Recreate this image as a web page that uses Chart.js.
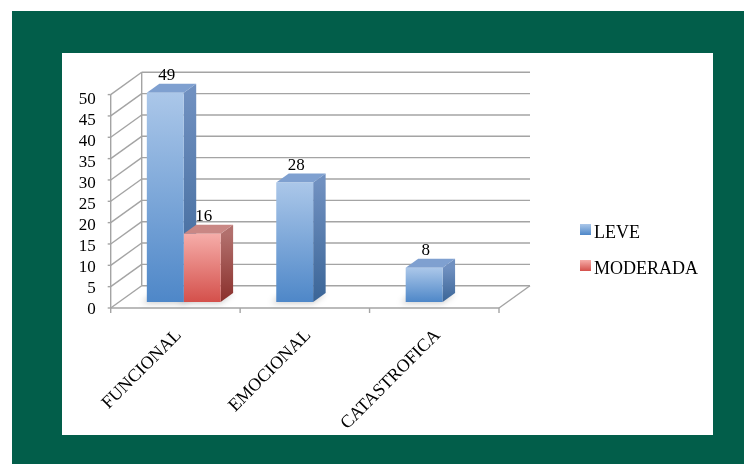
<!DOCTYPE html>
<html><head><meta charset="utf-8">
<script src="https://cdn.jsdelivr.net/npm/chart.js@4.4.1/dist/chart.umd.min.js"></script>
<style>html,body{margin:0;padding:0;background:#fff;overflow:hidden}canvas{display:block}</style>
</head><body>
<canvas id="c" width="744" height="464"></canvas>
<script>
// ---- data ----
const categories = ['FUNCIONAL', 'EMOCIONAL', 'CATASTROFICA'];
const seriesNames = ['LEVE', 'MODERADA'];
const leveValues = [49, 28, 8];
const moderadaValues = [16, 0, 0];
const yTickValues = [0, 5, 10, 15, 20, 25, 30, 35, 40, 45, 50];

// ---- styling ----
const FONT = '"Liberation Serif", "Times New Roman", serif';
const FRONT = { dx: -8.3, dy: 6 };      // front plane relative to bar plane
const BACK = { dx: 22.7, dy: -16.3 };    // back wall relative to bar plane
const DEPTH = { dx: 12.5, dy: 9 };       // bar depth
const GRID = '#A4A4A4';
const palette = [
  { frontTop: '#ABC7E9', frontBottom: '#4E87C8', sideTop: '#7090C0', sideBottom: '#3A6597', top: '#7FA0D0' },
  { frontTop: '#F6ADA9', frontBottom: '#D4504B', sideTop: '#B2706D', sideBottom: '#8A2F2B', top: '#C98784' }
];

function frontGradient(ctx, top, bottom, p) {
  const g = ctx.createLinearGradient(0, top, 0, bottom);
  g.addColorStop(0, p.frontTop);
  g.addColorStop(1, p.frontBottom);
  return g;
}

function barFill(c) {
  const p = palette[c.datasetIndex];
  const ys = c.chart.scales && c.chart.scales.y;
  if (!ys || c.raw === undefined) return p.frontBottom;
  const top = ys.getPixelForValue(c.raw), bottom = ys.getPixelForValue(0);
  if (!isFinite(top) || !isFinite(bottom) || top >= bottom) return p.frontBottom;
  return frontGradient(c.chart.ctx, top, bottom, p);
}

const frame3d = {
  id: 'frame3d',
  beforeDraw(chart) {
    const ctx = chart.ctx;
    ctx.save();
    ctx.fillStyle = '#ffffff';
    ctx.fillRect(0, 0, chart.width, chart.height);
    ctx.fillStyle = '#025E4A';
    ctx.fillRect(12, 11, chart.width - 12, chart.height - 11);
    ctx.fillStyle = '#ffffff';
    ctx.fillRect(62, 53, 651, 382);
    ctx.restore();
  },
  beforeDatasetsDraw(chart) {
    const ctx = chart.ctx, ys = chart.scales.y, xs = chart.scales.x;
    const L = xs.getPixelForValue(-0.5), R = xs.getPixelForValue(categories.length - 0.5);
    const y0 = ys.getPixelForValue(0), yMax = ys.getPixelForValue(yTickValues[yTickValues.length - 1]);
    ctx.save();
    ctx.strokeStyle = GRID;
    ctx.lineWidth = 1.4;
    ctx.lineCap = 'butt';
    const line = (x1, y1, x2, y2) => { ctx.beginPath(); ctx.moveTo(x1, y1); ctx.lineTo(x2, y2); ctx.stroke(); };
    yTickValues.forEach(v => {
      const y = ys.getPixelForValue(v);
      line(L + BACK.dx, y + BACK.dy, R + BACK.dx, y + BACK.dy);
      line(L + FRONT.dx, y + FRONT.dy, L + BACK.dx, y + BACK.dy);
      line(L + FRONT.dx - 3, y + FRONT.dy, L + FRONT.dx, y + FRONT.dy);
    });
    line(L + FRONT.dx, y0 + FRONT.dy, L + FRONT.dx, yMax + FRONT.dy);
    line(L + BACK.dx, y0 + BACK.dy, L + BACK.dx, yMax + BACK.dy);
    line(L + FRONT.dx, y0 + FRONT.dy, R + FRONT.dx, y0 + FRONT.dy);
    line(R + FRONT.dx, y0 + FRONT.dy, R + BACK.dx, y0 + BACK.dy);
    for (let i = 0; i <= categories.length; i++) {
      const x = xs.getPixelForValue(i - 0.5) + FRONT.dx;
      line(x, y0 + FRONT.dy, x, y0 + FRONT.dy + 5);
    }
    const bars = [];
    chart.data.datasets.forEach((ds, d) => {
      const meta = chart.getDatasetMeta(d);
      meta.data.forEach((el, i) => {
        if (!ds.data[i]) return;
        const p = el.getProps(['x', 'y', 'base', 'width'], true);
        bars.push({ d, i, x: p.x, y: p.y, base: p.base, w: p.width });
      });
    });
    // soft floor shadows
    ctx.save();
    ctx.filter = 'blur(3px)';
    ctx.fillStyle = 'rgba(0,0,0,0.22)';
    bars.forEach(b => {
      const l = b.x - b.w / 2, r = b.x + b.w / 2;
      ctx.beginPath();
      ctx.moveTo(l - 5, b.base + 1);
      ctx.lineTo(r, b.base + 1);
      ctx.lineTo(r + DEPTH.dx, b.base - DEPTH.dy);
      ctx.lineTo(l + DEPTH.dx - 5, b.base - DEPTH.dy);
      ctx.closePath();
      ctx.fill();
    });
    ctx.restore();
    // side and top faces, ordered by category then series
    bars.sort((a, b) => a.i - b.i || a.d - b.d);
    bars.forEach(b => {
      const p = palette[b.d];
      const l = b.x - b.w / 2, r = b.x + b.w / 2;
      const sg = ctx.createLinearGradient(0, b.y, 0, b.base);
      sg.addColorStop(0, p.sideTop);
      sg.addColorStop(1, p.sideBottom);
      ctx.fillStyle = sg;
      ctx.beginPath();
      ctx.moveTo(r, b.y);
      ctx.lineTo(r + DEPTH.dx, b.y - DEPTH.dy);
      ctx.lineTo(r + DEPTH.dx, b.base - DEPTH.dy);
      ctx.lineTo(r, b.base);
      ctx.closePath();
      ctx.fill();
      ctx.fillStyle = p.top;
      ctx.beginPath();
      ctx.moveTo(l, b.y);
      ctx.lineTo(l + DEPTH.dx, b.y - DEPTH.dy);
      ctx.lineTo(r + DEPTH.dx, b.y - DEPTH.dy);
      ctx.lineTo(r, b.y);
      ctx.closePath();
      ctx.fill();
    });
    ctx.restore();
  },
  afterDatasetsDraw(chart) {
    const ctx = chart.ctx;
    ctx.save();
    ctx.font = '17px ' + FONT;
    ctx.fillStyle = '#000';
    ctx.textAlign = 'center';
    ctx.textBaseline = 'alphabetic';
    chart.data.datasets.forEach((ds, d) => {
      chart.getDatasetMeta(d).data.forEach((el, i) => {
        if (!ds.data[i]) return;
        const p = el.getProps(['x', 'y'], true);
        ctx.fillText(String(ds.data[i]), p.x + 1.5, p.y - DEPTH.dy - 3.5);
      });
    });
    ctx.restore();
  },
  afterDraw(chart) {
    const ctx = chart.ctx, ys = chart.scales.y, xs = chart.scales.x;
    const L = xs.getPixelForValue(-0.5);
    const vMax = yTickValues[yTickValues.length - 1];
    ctx.save();
    ctx.font = '17px ' + FONT;
    ctx.fillStyle = '#000';
    ctx.textAlign = 'right';
    ctx.textBaseline = 'middle';
    yTickValues.forEach(v => {
      ctx.fillText(String(v), L + FRONT.dx - 15, ys.getPixelForValue(v) + 8 + (v / vMax) * 3.4);
    });
    // legend
    ctx.font = '18px ' + FONT;
    ctx.textAlign = 'left';
    ctx.textBaseline = 'alphabetic';
    seriesNames.forEach((name, k) => {
      const sy = 224 + k * 36;
      ctx.fillStyle = frontGradient(ctx, sy, sy + 11, palette[k]);
      ctx.fillRect(580, sy, 11, 11);
      ctx.fillStyle = '#000';
      ctx.fillText(name, 594, sy + 14.3);
    });
    ctx.restore();
  }
};

new Chart(document.getElementById('c'), {
  type: 'bar',
  data: {
    labels: categories,
    datasets: [
      { label: seriesNames[0], data: leveValues, backgroundColor: barFill, borderWidth: 0 },
      { label: seriesNames[1], data: moderadaValues, backgroundColor: barFill, borderWidth: 0 }
    ]
  },
  options: {
    responsive: false,
    animation: false,
    devicePixelRatio: 1,
    layout: { padding: { left: 119, right: 236.7, top: 88.6, bottom: 0 } },
    datasets: { bar: { categoryPercentage: 0.57, barPercentage: 1.0 } },
    plugins: { colors: { enabled: false }, legend: { display: false }, tooltip: { enabled: false } },
    scales: {
      x: {
        grid: { display: false, drawTicks: false },
        border: { display: false },
        ticks: {
          color: '#000',
          font: { family: FONT, size: 18 },
          minRotation: 45, maxRotation: 45,
          padding: 23,
          labelOffset: -5
        },
        afterFit: (s) => { s.height = 162; }
      },
      y: { display: false, min: 0, max: 50, ticks: { stepSize: 5 } }
    }
  },
  plugins: [frame3d]
});
</script>
</body></html>
